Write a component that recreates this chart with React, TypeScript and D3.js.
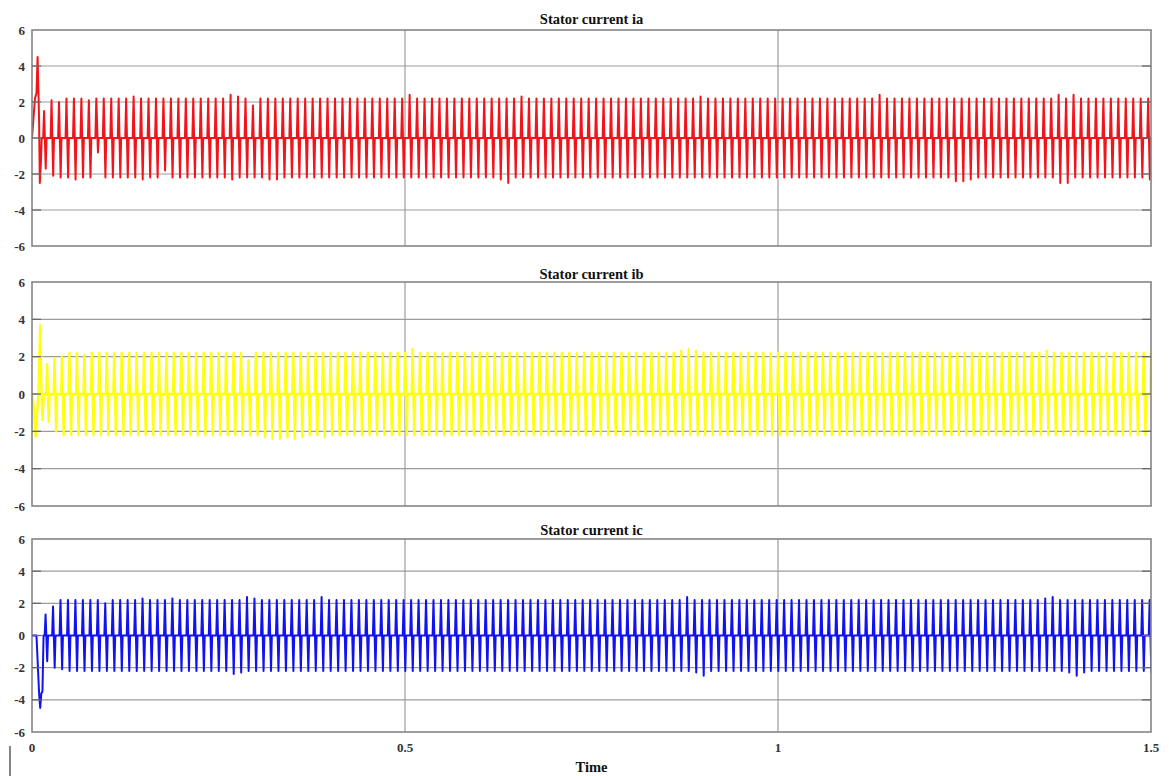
import * as d3 from "d3";
import { useEffect, useRef } from "react";

// ---- data ----
const xTicks = [0, 0.5, 1, 1.5];
const xTickLabels = ["0", "0.5", "1", "1.5"];
const yTicks = [-6, -4, -2, 0, 2, 4, 6];
const titles = ["Stator current ia", "Stator current ib", "Stator current ic"];
const colors = ["#f2141b", "#ffff12", "#1212f0"];

// one bar every 10 ms after the start-up transient
const period = 0.01;
const barStart = [0.015, 0.019, 0.017];

// start-up transients [time, value]
const iaStart = [[0, 0], [0.004, 2.2], [0.006, 2.5], [0.0075, 4.5], [0.0095, 1.0], [0.0105, -2.5], [0.012, -1.3], [0.013, 0]];
const ibStart = [[0, 0], [0.002, -0.5], [0.005, -2.3], [0.007, -1.0], [0.0085, 0], [0.011, 3.7], [0.0125, 0.5], [0.014, -1.4], [0.016, 0]];
const icStart = [[0, 0], [0.006, 0], [0.0095, -3.6], [0.011, -4.5], [0.0125, -3.6], [0.014, -3.5], [0.0155, 0]];

const iaPos = [
  1.5, 2.1, 2.0, 2.2, 2.2, 2.2, 2.1, 2.2, 2.2, 2.2,
  2.2, 2.2, 2.3, 2.2, 2.2, 2.2, 2.2, 2.2, 2.2, 2.2,
  2.2, 2.2, 2.2, 2.2, 2.2, 2.4, 2.3, 2.2, 1.8, 2.2,
  2.2, 2.2, 2.2, 2.2, 2.2, 2.2, 2.2, 2.2, 2.2, 2.2,
  2.2, 2.2, 2.2, 2.2, 2.2, 2.2, 2.2, 2.2, 2.2, 2.4,
  2.2, 2.2, 2.2, 2.2, 2.2, 2.2, 2.2, 2.2, 2.2, 2.2,
  2.2, 2.2, 2.2, 2.2, 2.3, 2.2, 2.2, 2.2, 2.2, 2.2,
  2.2, 2.2, 2.2, 2.2, 2.2, 2.2, 2.2, 2.2, 2.2, 2.2,
  2.2, 2.2, 2.2, 2.2, 2.2, 2.2, 2.2, 2.2, 2.3, 2.2,
  2.2, 2.2, 2.2, 2.2, 2.2, 2.2, 2.2, 2.2, 2.2, 2.2,
  2.2, 2.2, 2.2, 2.2, 2.2, 2.2, 2.2, 2.2, 2.2, 2.2,
  2.2, 2.2, 2.4, 2.2, 2.2, 2.2, 2.2, 2.2, 2.2, 2.2,
  2.2, 2.2, 2.2, 2.2, 2.2, 2.2, 2.2, 2.2, 2.2, 2.2,
  2.2, 2.2, 2.2, 2.2, 2.2, 2.2, 2.4, 2.2, 2.4, 2.2,
  2.2, 2.2, 2.2, 2.2, 2.2, 2.2, 2.2, 2.2, 2.2,
];
const iaNeg = [
  -1.7, -2.1, -2.2, -2.2, -2.3, -2.2, -2.2, -0.8, -2.2, -2.2,
  -2.2, -2.2, -2.2, -2.3, -2.2, -2.2, -1.8, -2.2, -2.2, -2.2,
  -2.2, -2.2, -2.2, -2.2, -2.2, -2.3, -2.2, -2.2, -2.2, -2.2,
  -2.3, -2.3, -2.2, -2.2, -2.2, -2.2, -2.2, -2.2, -2.2, -2.2,
  -2.2, -2.2, -2.2, -2.2, -2.2, -2.2, -2.2, -2.2, -2.2, -2.2,
  -2.2, -2.2, -2.2, -2.2, -2.2, -2.2, -2.2, -2.2, -2.2, -2.2,
  -2.2, -2.3, -2.5, -2.2, -2.2, -2.2, -2.2, -2.2, -2.2, -2.2,
  -2.2, -2.2, -2.2, -2.2, -2.2, -2.2, -2.2, -2.2, -2.2, -2.2,
  -2.2, -2.2, -2.2, -2.2, -2.2, -2.2, -2.2, -2.2, -2.2, -2.2,
  -2.2, -2.2, -2.2, -2.2, -2.2, -2.2, -2.2, -2.2, -2.2, -2.2,
  -2.2, -2.2, -2.2, -2.2, -2.2, -2.2, -2.2, -2.2, -2.2, -2.2,
  -2.2, -2.2, -2.2, -2.2, -2.2, -2.2, -2.2, -2.2, -2.2, -2.2,
  -2.2, -2.2, -2.4, -2.4, -2.3, -2.2, -2.2, -2.2, -2.2, -2.2,
  -2.2, -2.2, -2.2, -2.2, -2.2, -2.2, -2.5, -2.5, -2.2, -2.2,
  -2.2, -2.2, -2.2, -2.2, -2.2, -2.2, -2.2, -2.2, -2.3,
];

const ibPos = [
  1.6, 1.9, 2.0, 2.2, 2.2, 2.1, 2.2, 2.2, 2.2, 2.2,
  2.2, 2.2, 2.2, 2.2, 2.2, 2.2, 2.2, 2.2, 2.2, 2.2,
  2.2, 2.2, 2.2, 2.2, 2.2, 2.2, 2.2, 1.8, 2.2, 2.2,
  2.2, 2.2, 2.2, 2.2, 2.2, 2.2, 2.2, 2.2, 2.2, 2.2,
  2.2, 2.2, 2.2, 2.2, 2.2, 2.2, 2.2, 2.2, 2.2, 2.4,
  2.2, 2.2, 2.2, 2.2, 2.2, 2.2, 2.2, 2.2, 2.2, 2.2,
  2.2, 2.2, 2.2, 2.2, 2.2, 2.2, 2.2, 2.2, 2.2, 2.2,
  2.2, 2.2, 2.2, 2.2, 2.2, 2.2, 2.2, 2.2, 2.2, 2.2,
  2.2, 2.2, 2.2, 2.2, 2.2, 2.3, 2.4, 2.3, 2.2, 2.2,
  2.2, 2.2, 2.2, 2.2, 2.2, 2.2, 2.2, 2.2, 2.2, 2.2,
  2.2, 2.2, 2.2, 2.2, 2.2, 2.2, 2.2, 2.2, 2.2, 2.2,
  2.2, 2.2, 2.2, 2.2, 2.2, 2.2, 2.2, 2.2, 2.2, 2.2,
  2.2, 2.2, 2.2, 2.2, 2.2, 2.2, 2.2, 2.2, 2.2, 2.2,
  2.2, 2.2, 2.2, 2.2, 2.3, 2.2, 2.2, 2.2, 2.2, 2.2,
  2.2, 2.2, 2.2, 2.2, 2.2, 2.2, 2.2, 2.2, 2.4,
];
const ibNeg = [
  -1.5, -2.0, -2.2, -2.2, -2.2, -2.2, -2.2, -2.2, -2.2, -2.2,
  -2.2, -2.2, -2.2, -2.2, -2.2, -2.2, -2.2, -2.2, -2.2, -2.2,
  -2.2, -2.2, -2.2, -2.2, -2.2, -2.2, -2.2, -2.2, -2.2, -2.3,
  -2.4, -2.4, -2.3, -2.4, -2.3, -2.2, -2.2, -2.3, -2.2, -2.2,
  -2.2, -2.2, -2.2, -2.2, -2.2, -2.2, -2.2, -2.2, -2.2, -2.2,
  -2.2, -2.2, -2.2, -2.2, -2.2, -2.2, -2.2, -2.2, -2.2, -2.2,
  -2.2, -2.2, -2.2, -2.2, -2.2, -2.2, -2.2, -2.2, -2.2, -2.2,
  -2.2, -2.2, -2.2, -2.2, -2.2, -2.2, -2.2, -2.2, -2.2, -2.2,
  -2.2, -2.2, -2.2, -2.2, -2.2, -2.2, -2.2, -2.2, -2.2, -2.2,
  -2.2, -2.2, -2.2, -2.2, -2.2, -2.2, -2.2, -2.2, -2.2, -2.2,
  -2.2, -2.2, -2.2, -2.2, -2.2, -2.2, -2.2, -2.2, -2.2, -2.2,
  -2.2, -2.2, -2.2, -2.2, -2.2, -2.2, -2.2, -2.2, -2.2, -2.2,
  -2.2, -2.2, -2.2, -2.2, -2.2, -2.2, -2.2, -2.2, -2.2, -2.2,
  -2.2, -2.2, -2.2, -2.2, -2.2, -2.2, -2.2, -2.2, -2.2, -2.2,
  -2.2, -2.2, -2.2, -2.2, -2.2, -2.2, -2.2, -2.2, -2.2,
];

const icPos = [
  1.3, 1.8, 2.2, 2.2, 2.2, 2.2, 2.2, 2.2, 2.0, 2.2,
  2.2, 2.2, 2.2, 2.3, 2.2, 2.2, 2.2, 2.3, 2.2, 2.2,
  2.2, 2.2, 2.2, 2.2, 2.2, 2.2, 2.2, 2.4, 2.3, 2.2,
  2.2, 2.2, 2.2, 2.2, 2.2, 2.2, 2.2, 2.4, 2.2, 2.2,
  2.2, 2.2, 2.2, 2.2, 2.2, 2.2, 2.2, 2.2, 2.2, 2.2,
  2.2, 2.2, 2.2, 2.2, 2.2, 2.2, 2.2, 2.2, 2.2, 2.2,
  2.2, 2.2, 2.2, 2.2, 2.2, 2.2, 2.2, 2.2, 2.2, 2.2,
  2.2, 2.2, 2.2, 2.2, 2.2, 2.2, 2.2, 2.2, 2.2, 2.2,
  2.2, 2.2, 2.2, 2.2, 2.2, 2.2, 2.4, 2.2, 2.2, 2.2,
  2.2, 2.2, 2.2, 2.2, 2.2, 2.2, 2.2, 2.2, 2.2, 2.2,
  2.2, 2.2, 2.2, 2.2, 2.2, 2.2, 2.2, 2.2, 2.2, 2.2,
  2.2, 2.2, 2.2, 2.2, 2.2, 2.2, 2.2, 2.2, 2.2, 2.2,
  2.2, 2.2, 2.2, 2.2, 2.2, 2.2, 2.2, 2.2, 2.2, 2.2,
  2.2, 2.2, 2.2, 2.2, 2.3, 2.4, 2.2, 2.2, 2.2, 2.2,
  2.2, 2.2, 2.2, 2.2, 2.2, 2.2, 2.2, 2.2, 2.2,
];
const icNeg = [
  -1.6, -2.0, -2.1, -2.2, -2.2, -2.2, -2.2, -2.2, -2.2, -2.2,
  -2.2, -2.2, -2.2, -2.2, -2.2, -2.2, -2.2, -2.2, -2.2, -2.2,
  -2.2, -2.2, -2.2, -2.2, -2.2, -2.4, -2.3, -2.2, -2.2, -2.2,
  -2.2, -2.2, -2.2, -2.2, -2.2, -2.2, -2.2, -2.2, -2.2, -2.2,
  -2.2, -2.2, -2.2, -2.2, -2.2, -2.2, -2.2, -2.2, -2.2, -2.2,
  -2.2, -2.2, -2.2, -2.2, -2.2, -2.2, -2.2, -2.2, -2.2, -2.2,
  -2.2, -2.2, -2.2, -2.2, -2.2, -2.2, -2.2, -2.2, -2.2, -2.2,
  -2.2, -2.2, -2.2, -2.2, -2.2, -2.2, -2.2, -2.2, -2.2, -2.2,
  -2.2, -2.2, -2.2, -2.2, -2.2, -2.2, -2.2, -2.3, -2.5, -2.2,
  -2.2, -2.2, -2.2, -2.2, -2.2, -2.2, -2.2, -2.2, -2.2, -2.2,
  -2.2, -2.2, -2.2, -2.2, -2.2, -2.2, -2.2, -2.2, -2.2, -2.2,
  -2.2, -2.2, -2.2, -2.2, -2.2, -2.2, -2.2, -2.2, -2.2, -2.2,
  -2.2, -2.2, -2.2, -2.2, -2.2, -2.2, -2.2, -2.2, -2.2, -2.2,
  -2.2, -2.2, -2.2, -2.2, -2.2, -2.2, -2.2, -2.3, -2.5, -2.3,
  -2.2, -2.2, -2.2, -2.2, -2.2, -2.2, -2.2, -2.2, -2.3,
];

const starts = [iaStart, ibStart, icStart];
const positives = [iaPos, ibPos, icPos];
const negatives = [iaNeg, ibNeg, icNeg];

// ---- layout ----
const W = 1169;
const H = 776;
const xLeft = 32;
const xRight = 1151;
const panels = [
  { top: 30, bottom: 246, titleY: 24 },
  { top: 282, bottom: 506, titleY: 279 },
  { top: 539, bottom: 732, titleY: 535 },
];
const strokeW = [2.0, 2.4, 2.0];
const font = "'Liberation Serif', 'Times New Roman', serif";

// builds the sample points of one trace (each bar: up, down, back to zero)
function buildTrace(k: number) {
  const pts: { t: number; v: number }[] = starts[k].map(([t, v]) => ({ t, v }));
  positives[k].forEach((p, i) => {
    const c = barStart[k] + i * period;
    pts.push({ t: c, v: 0 });
    pts.push({ t: c + 0.0012, v: p });
    pts.push({ t: c + 0.0034, v: negatives[k][i] });
    pts.push({ t: c + 0.0045, v: 0 });
  });
  pts.push({ t: 1.5, v: 0 });
  return pts;
}

export default function App() {
  const svgRef = useRef<SVGSVGElement>(null);

  useEffect(() => {
    const svg = d3.select(svgRef.current);
    svg.selectAll("*").remove();

    svg.append("rect").attr("width", W).attr("height", H).attr("fill", "#fff");

    const x = d3.scaleLinear().domain([0, 1.5]).range([xLeft, xRight]);

    panels.forEach((pn, k) => {
      const y = d3.scaleLinear().domain([-6, 6]).range([pn.bottom, pn.top]);
      const g = svg.append("g");

      g.append("defs")
        .append("clipPath")
        .attr("id", `clip-${k}`)
        .append("rect")
        .attr("x", xLeft)
        .attr("y", pn.top)
        .attr("width", xRight - xLeft)
        .attr("height", pn.bottom - pn.top);

      // grid
      g.selectAll(".hgrid")
        .data(yTicks.slice(1, -1))
        .join("line")
        .attr("x1", xLeft)
        .attr("x2", xRight)
        .attr("y1", (d) => y(d))
        .attr("y2", (d) => y(d))
        .attr("stroke", "#9c9c9c")
        .attr("stroke-width", 1.2);

      g.selectAll(".vgrid")
        .data(xTicks.slice(1, -1))
        .join("line")
        .attr("x1", (d) => x(d))
        .attr("x2", (d) => x(d))
        .attr("y1", pn.top)
        .attr("y2", pn.bottom)
        .attr("stroke", "#9c9c9c")
        .attr("stroke-width", 1.2);

      // trace
      const line = d3
        .line<{ t: number; v: number }>()
        .x((d) => x(d.t))
        .y((d) => y(d.v));

      g.append("path")
        .datum(buildTrace(k))
        .attr("d", line)
        .attr("fill", "none")
        .attr("stroke", colors[k])
        .attr("stroke-width", strokeW[k])
        .attr("stroke-linejoin", "round")
        .attr("clip-path", `url(#clip-${k})`);

      // box
      g.append("rect")
        .attr("x", xLeft)
        .attr("y", pn.top)
        .attr("width", xRight - xLeft)
        .attr("height", pn.bottom - pn.top)
        .attr("fill", "none")
        .attr("stroke", "#858585")
        .attr("stroke-width", 1.6);

      // inner ticks left and right
      yTicks.slice(1, -1).forEach((d) => {
        [[xLeft, xLeft + 9], [xRight - 9, xRight]].forEach(([a, b]) => {
          g.append("line")
            .attr("x1", a)
            .attr("x2", b)
            .attr("y1", y(d))
            .attr("y2", y(d))
            .attr("stroke", "#6a6a6a")
            .attr("stroke-width", 1.3);
        });
      });

      // y tick labels
      g.selectAll(".ylab")
        .data(yTicks)
        .join("text")
        .attr("x", 25)
        .attr("y", (d) => y(d) + 4.5)
        .attr("text-anchor", "end")
        .attr("font-family", font)
        .attr("font-weight", "bold")
        .attr("font-size", 13)
        .attr("fill", "#333")
        .text((d) => String(d));

      // title
      g.append("text")
        .attr("x", (xLeft + xRight) / 2)
        .attr("y", pn.titleY)
        .attr("text-anchor", "middle")
        .attr("font-family", font)
        .attr("font-weight", "bold")
        .attr("font-size", 14.5)
        .attr("fill", "#111")
        .text(titles[k]);
    });

    // x tick labels on the bottom panel
    const last = panels[panels.length - 1];
    svg.selectAll(".xlab")
      .data(xTicks)
      .join("text")
      .attr("x", (d) => x(d))
      .attr("y", last.bottom + 20)
      .attr("text-anchor", "middle")
      .attr("font-family", font)
      .attr("font-weight", "bold")
      .attr("font-size", 13)
      .attr("fill", "#333")
      .text((d, i) => xTickLabels[i]);

    svg.append("text")
      .attr("x", (xLeft + xRight) / 2)
      .attr("y", H - 4)
      .attr("text-anchor", "middle")
      .attr("font-family", font)
      .attr("font-weight", "bold")
      .attr("font-size", 14.5)
      .attr("fill", "#111")
      .text("Time");

    // stray cursor mark at bottom-left of the scan
    svg.append("line")
      .attr("x1", 10)
      .attr("x2", 10)
      .attr("y1", 746)
      .attr("y2", H)
      .attr("stroke", "#333")
      .attr("stroke-width", 1.2);
  }, []);

  return (
    <div style={{ position: "absolute", left: 0, top: 0 }}>
      <svg ref={svgRef} width={W} height={H} />
    </div>
  );
}
